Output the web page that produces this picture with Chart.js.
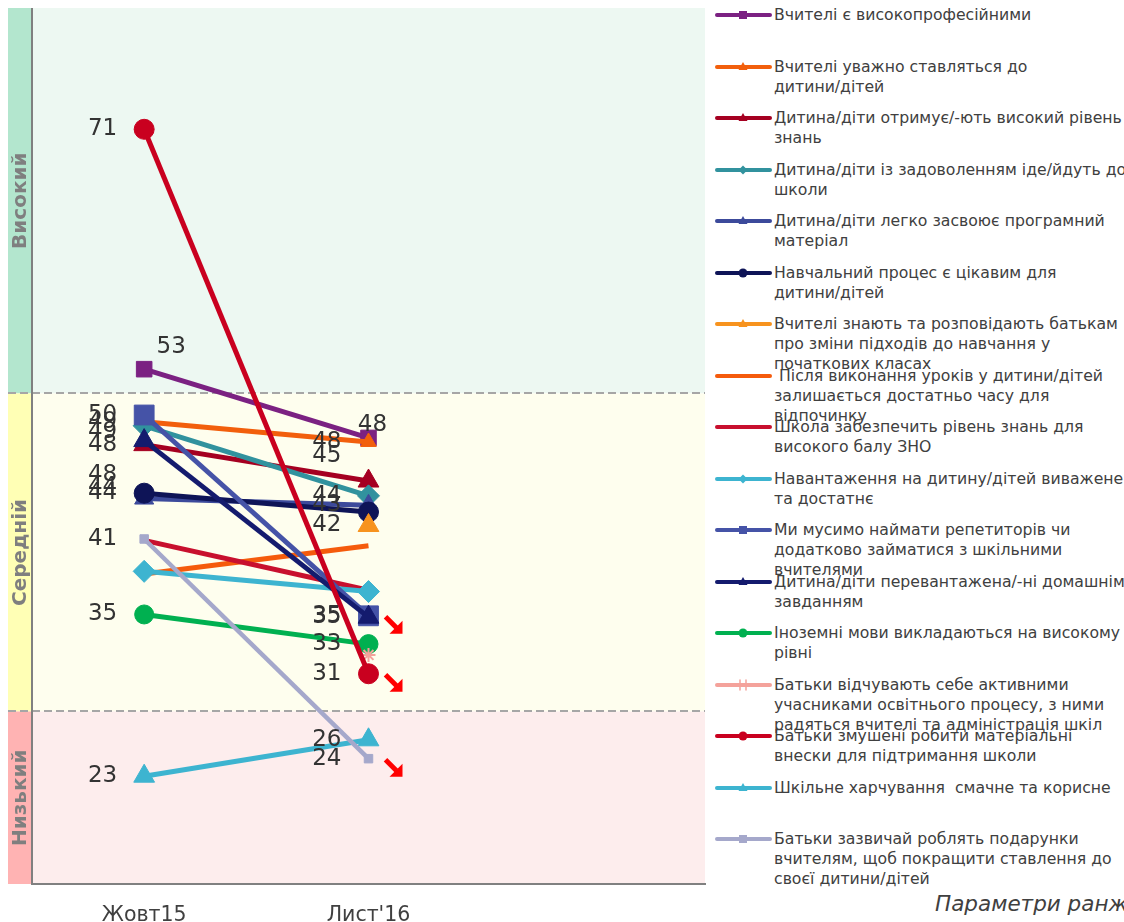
<!DOCTYPE html>
<html>
<head>
<meta charset="utf-8">
<script src="https://cdn.jsdelivr.net/npm/chart.js@4/dist/chart.umd.min.js"></script>
<style>
  body { margin: 0; background: #fff; width: 1124px; height: 922px; overflow: hidden; position: relative; font-family: "DejaVu Sans", Verdana, sans-serif; }
  #wrap { position: absolute; left: 0; top: 0; width: 706px; height: 922px; }
  #legend { position: absolute; left: 715px; top: 0; width: 409px; height: 922px; }
  .item { position: absolute; left: 0; width: 420px; height: 52px; }
  .item canvas { position: absolute; left: 0; top: 0; }
  .item .txt { position: absolute; left: 59px; top: 0; font-size: 15.7px; line-height: 20px; color: #404040; white-space: pre; }
  #note { position: absolute; left: 935px; top: 891px; font-style: italic; font-size: 21.5px; color: #404040; white-space: nowrap; }
</style>
</head>
<body>
<div id="wrap"><canvas id="chart" width="706" height="922"></canvas></div>
<div id="legend"></div>
<div id="note">Параметри ранжування</div>
<script>
// categories (third slot is empty, it only widens the plot)
const categories = ['Жовт15', "Лист'16", ''];

const seriesNames = [
  'Вчителі є високопрофесійними',
  'Вчителі уважно ставляться до\nдитини/дітей',
  'Дитина/діти отримує/-ють високий рівень\nзнань',
  'Дитина/діти із задоволенням іде/йдуть до\nшколи',
  'Дитина/діти легко засвоює програмний\nматеріал',
  'Навчальний процес є цікавим для\nдитини/дітей',
  'Вчителі знають та розповідають батькам\nпро зміни підходів до навчання у\nпочаткових класах',
  ' Після виконання уроків у дитини/дітей\nзалишається достатньо часу для\nвідпочинку',
  'Школа забезпечить рівень знань для\nвисокого балу ЗНО',
  'Навантаження на дитину/дітей виважене\nта достатнє',
  'Ми мусимо наймати репетиторів чи\nдодатково займатися з шкільними\nвчителями',
  'Дитина/діти перевантажена/-ні домашнім\nзавданням',
  'Іноземні мови викладаються на високому\nрівні',
  'Батьки відчувають себе активними\nучасниками освітнього процесу, з ними\nрадяться вчителі та адміністрація шкіл',
  'Батьки змушені робити матеріальні\nвнески для підтримання школи',
  'Шкільне харчування  смачне та корисне',
  'Батьки зазвичай роблять подарунки\nвчителям, щоб покращити ставлення до\nсвоєї дитини/дітей'
];

const octValues = [53.2, 49.3, 47.6, 49.0, 43.6, 44.0, null, 38.0, 40.5, 38.2, 49.8, 47.9, 35.0, null, 71.0, 23.0, 40.6];
const novValues = [48.1, 47.8, 44.9, 43.8, 43.1, 42.6, 41.6, 40.1, 36.8, 36.7, 34.9, 34.8, 32.8, 32.0, 30.6, 25.7, 24.3];

// series whose values are not labelled on the picture: [series, point]
const unlabelled = ['7-0', '7-1', '8-0', '8-1', '9-0', '9-1', '13-1', '5-1'];
// series marked with a red "falling" arrow at Лист'16
const fallingSeries = [10, 14, 16];

// level bands (value thresholds)
const yMin = 15, yMax = 80;
const midLevel = 51.4, lowLevel = 27.8;
const bandNames = ['Високий', 'Середній', 'Низький'];

// styles
const colors = ['#7B2182', '#F25F0C', '#A50021', '#31929E', '#3C4A9B', '#0E1457', '#F7931E', '#F55B0C',
  '#C8102E', '#3DB4D0', '#4553A7', '#141B6E', '#00B050', '#F4A29B', '#C9001F', '#3DB4D0', '#A5A8CB'];
const markers = ['rect', 'triangle', 'triangle', 'rectRot', 'triangle', 'circle', 'triangle', false,
  false, 'rectRot', 'rect', 'triangle', 'circle', 'star', 'circle', 'triangle', 'rect'];
const markerSize = [11, 9, 12, 11, 11, 10, 12, 0, 0, 11, 14, 12, 9.5, 7, 10, 12, 6];
const labelOffsets = {
  '0-0': { dx: 27, dy: -22, align: 'center' },
  '0-1': { dx: 4, dy: -13, align: 'center' },
  '2-1': { dx: -27, dy: -25, align: 'right' },
  '11-0': { dx: -27, dy: 34, align: 'right' },
  '4-0': { dx: -27, dy: -12, align: 'right' },
  '3-0': { dx: -27, dy: 6, align: 'right' }
};

const datasets = seriesNames.map((name, i) => ({
  label: name,
  data: [octValues[i], novValues[i]],
  borderColor: colors[i],
  backgroundColor: colors[i],
  borderWidth: i === 16 ? 4.5 : 5,
  pointStyle: markers[i],
  pointRadius: markers[i] ? markerSize[i] : 0,
  pointBorderWidth: markers[i] === 'star' ? 2 : 1,
  pointBorderColor: colors[i],
  order: -i,
  spanGaps: false
}));

const bandsPlugin = {
  id: 'bands',
  beforeDraw(chart) {
    const { ctx, chartArea: a, scales: { y } } = chart;
    const yMid = y.getPixelForValue(midLevel), yLow = y.getPixelForValue(lowLevel);
    const stripL = 8;
    const rows = [[a.top, yMid, '#B3E6CE', '#EDF8F2'], [yMid, yLow, '#FFFFB5', '#FEFEEE'], [yLow, a.bottom, '#FFB3B3', '#FDEDED']];
    ctx.save();
    rows.forEach(([t, b, strip, bg], k) => {
      ctx.fillStyle = strip;
      ctx.fillRect(stripL, t, a.left - stripL, b - t);
      ctx.fillStyle = bg;
      ctx.fillRect(a.left, t, a.right - a.left, b - t);
      ctx.save();
      ctx.translate((stripL + a.left) / 2 + 1, (t + b) / 2);
      ctx.rotate(-Math.PI / 2);
      ctx.fillStyle = '#7F7F7F';
      ctx.font = 'bold 20px "DejaVu Sans"';
      ctx.textAlign = 'center';
      ctx.textBaseline = 'middle';
      ctx.fillText(bandNames[k], 0, 0);
      ctx.restore();
    });
    ctx.strokeStyle = '#A6A6A6';
    ctx.lineWidth = 2;
    ctx.setLineDash([8, 4]);
    [yMid, yLow].forEach(py => {
      ctx.beginPath();
      ctx.moveTo(stripL, Math.round(py));
      ctx.lineTo(a.right, Math.round(py));
      ctx.stroke();
    });
    ctx.setLineDash([]);
    ctx.strokeStyle = '#808080';
    ctx.beginPath();
    ctx.moveTo(a.left, a.top);
    ctx.lineTo(a.left, a.bottom);
    ctx.stroke();
    ctx.restore();
  }
};

const labelsPlugin = {
  id: 'valueLabels',
  afterDatasetsDraw(chart) {
    const { ctx } = chart;
    ctx.save();
    ctx.font = '23px "DejaVu Sans"';
    ctx.fillStyle = '#333333';
    ctx.textBaseline = 'middle';
    chart.data.datasets.forEach((ds, i) => {
      const meta = chart.getDatasetMeta(i);
      ds.data.forEach((v, j) => {
        if (v === null || unlabelled.includes(i + '-' + j)) return;
        const p = meta.data[j];
        const o = labelOffsets[i + '-' + j] || { dx: -27, dy: 0, align: 'right' };
        ctx.textAlign = o.align;
        ctx.fillText(String(Math.round(v)), p.x + o.dx, p.y + o.dy);
      });
    });
    // falling arrows
    ctx.fillStyle = '#FF0000';
    ctx.strokeStyle = '#FF0000';
    ctx.lineWidth = 5;
    fallingSeries.forEach(i => {
      const p = chart.getDatasetMeta(i).data[1];
      const x0 = p.x + 17, y0 = p.y + 1, s = 16;
      ctx.beginPath();
      ctx.moveTo(x0, y0);
      ctx.lineTo(x0 + s - 5, y0 + s - 5);
      ctx.stroke();
      ctx.beginPath();
      ctx.moveTo(x0 + s + 1, y0 + s + 1);
      ctx.lineTo(x0 + s + 1, y0 + s - 12);
      ctx.lineTo(x0 + s - 12, y0 + s + 1);
      ctx.closePath();
      ctx.fill();
    });
    ctx.restore();
  }
};

new Chart(document.getElementById('chart'), {
  type: 'line',
  data: { labels: categories, datasets },
  options: {
    responsive: false,
    animation: false,
    layout: { autoPadding: false, padding: { left: 32, top: 8, right: 1, bottom: 0 } },
    plugins: { legend: { display: false }, tooltip: { enabled: false } },
    elements: { line: { tension: 0 } },
    scales: {
      x: {
        offset: true,
        grid: { display: false, drawTicks: false },
        border: { color: '#808080', width: 2 },
        ticks: { color: '#404040', font: { family: 'DejaVu Sans', size: 20.5 }, padding: 19, maxRotation: 0 },
        afterFit(scale) { scale.height = 38; }
      },
      y: { display: false, min: yMin, max: yMax }
    }
  },
  plugins: [bandsPlugin, labelsPlugin]
});

// HTML legend
const legend = document.getElementById('legend');
seriesNames.forEach((name, i) => {
  const item = document.createElement('div');
  item.className = 'item';
  item.style.top = (5 + i * 51.5) + 'px';
  const c = document.createElement('canvas');
  c.width = 58; c.height = 20;
  const g = c.getContext('2d');
  g.strokeStyle = colors[i];
  g.fillStyle = colors[i];
  g.lineWidth = 4;
  g.lineCap = 'round';
  g.beginPath(); g.moveTo(2, 10); g.lineTo(55, 10); g.stroke();
  const cx = 28, cy = 10;
  g.beginPath();
  switch (markers[i]) {
    case 'rect': g.fillRect(cx - 4, cy - 4, 8, 8); break;
    case 'circle': g.arc(cx, cy, 4.5, 0, Math.PI * 2); g.fill(); break;
    case 'triangle': g.moveTo(cx, cy - 5); g.lineTo(cx + 4.5, cy + 3); g.lineTo(cx - 4.5, cy + 3); g.closePath(); g.fill(); break;
    case 'rectRot': g.moveTo(cx, cy - 4.5); g.lineTo(cx + 4.5, cy); g.lineTo(cx, cy + 4.5); g.lineTo(cx - 4.5, cy); g.closePath(); g.fill(); break;
    case 'star': g.lineWidth = 1.5; g.moveTo(cx - 3, cy - 5); g.lineTo(cx - 3, cy + 5); g.moveTo(cx + 3, cy - 5); g.lineTo(cx + 3, cy + 5); g.stroke(); break;
  }
  const t = document.createElement('div');
  t.className = 'txt';
  t.textContent = name;
  item.appendChild(c);
  item.appendChild(t);
  legend.appendChild(item);
});
</script>
</body>
</html>
